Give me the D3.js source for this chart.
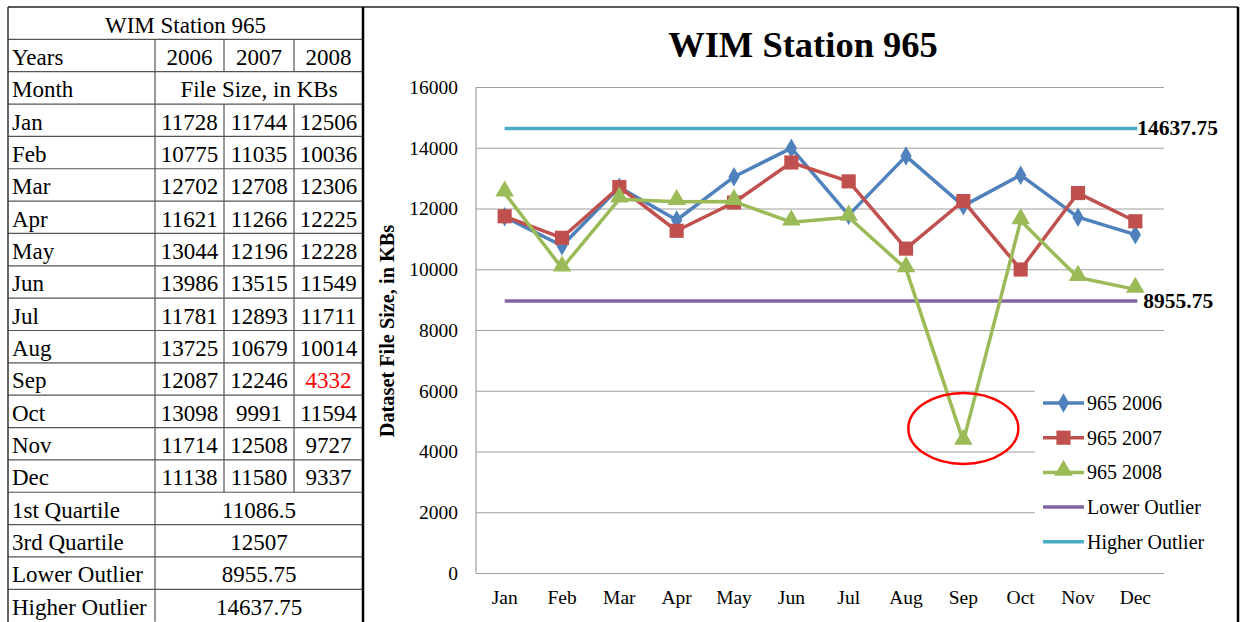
<!DOCTYPE html>
<html>
<head>
<meta charset="utf-8">
<script src="https://cdn.jsdelivr.net/npm/d3@7.9.0/dist/d3.min.js"></script>
<style>
  html, body { margin: 0; padding: 0; background: #fff; }
  svg { display: block; font-family: "Liberation Serif", "Times New Roman", serif; }
</style>
</head>
<body>
<svg id="chart" width="1241" height="622"></svg>
<script>
// data
const months = ['Jan', 'Feb', 'Mar', 'Apr', 'May', 'Jun', 'Jul', 'Aug', 'Sep', 'Oct', 'Nov', 'Dec'];
const years = ['2006', '2007', '2008'];
const size2006 = [11728, 10775, 12702, 11621, 13044, 13986, 11781, 13725, 12087, 13098, 11714, 11138];
const size2007 = [11744, 11035, 12708, 11266, 12196, 13515, 12893, 10679, 12246, 9991, 12508, 11580];
const size2008 = [12506, 10036, 12306, 12225, 12228, 11549, 11711, 10014, 4332, 11594, 9727, 9337];
const statLabels = ['1st Quartile', '3rd Quartile', 'Lower Outlier', 'Higher Outlier'];
const statValues = ['11086.5', '12507', '8955.75', '14637.75'];
const lowerOutlier = 8955.75;
const higherOutlier = 14637.75;
const yTicks = [0, 2000, 4000, 6000, 8000, 10000, 12000, 14000, 16000];
const outlierMonth = 'Sep';

const series = [
  { name: '965 2006', values: size2006, color: '#4f81bd', marker: 'diamond' },
  { name: '965 2007', values: size2007, color: '#c0504d', marker: 'square' },
  { name: '965 2008', values: size2008, color: '#9bbb59', marker: 'triangle' }
];
const refLines = [
  { name: 'Lower Outlier', value: lowerOutlier, color: '#8064a2' },
  { name: 'Higher Outlier', value: higherOutlier, color: '#4bacc6' }
];

const svg = d3.select('#chart');

// ----------- table -----------
const tLeft = 8, tRight = 363, tTop = 7, rowH = 32.35;
const colX = [tLeft, 155, 224, 294, tRight];
const table = svg.append('g');

let rows = [];
rows.push({ cells: [{ text: 'WIM Station 965', x0: tLeft, x1: tRight, anchor: 'middle' }] });
rows.push({ cells: [{ text: 'Years', x0: tLeft, x1: colX[1], anchor: 'start' }]
  .concat(years.map((y, i) => ({ text: y, x0: colX[i + 1], x1: colX[i + 2], anchor: 'middle' }))) });
rows.push({ cells: [{ text: 'Month', x0: tLeft, x1: colX[1], anchor: 'start' },
  { text: 'File Size, in KBs', x0: colX[1], x1: tRight, anchor: 'middle' }] });
months.forEach((m, i) => {
  rows.push({ cells: [{ text: m, x0: tLeft, x1: colX[1], anchor: 'start' }]
    .concat([size2006[i], size2007[i], size2008[i]].map((v, j) => ({
      text: v, x0: colX[j + 1], x1: colX[j + 2], anchor: 'middle',
      fill: (j === 2 && m === outlierMonth) ? '#ff0000' : '#000'
    }))) });
});
statLabels.forEach((s, i) => {
  rows.push({ cells: [{ text: s, x0: tLeft, x1: colX[1], anchor: 'start' },
    { text: statValues[i], x0: colX[1], x1: tRight, anchor: 'middle' }] });
});

rows.forEach((r, i) => {
  let top = tTop + i * rowH;
  if (i > 0) {
    table.append('line')
      .attr('x1', tLeft).attr('x2', tRight)
      .attr('y1', top).attr('y2', top)
      .attr('stroke', '#555').attr('stroke-width', 1.2);
  }
  r.cells.forEach((c, j) => {
    if (j > 0) {
      table.append('line')
        .attr('x1', c.x0).attr('x2', c.x0)
        .attr('y1', top).attr('y2', top + rowH)
        .attr('stroke', '#555').attr('stroke-width', 1.2);
    }
    table.append('text')
      .attr('x', c.anchor === 'start' ? c.x0 + 4 : (c.x0 + c.x1) / 2)
      .attr('y', top + 25.5)
      .attr('text-anchor', c.anchor)
      .attr('font-size', 23)
      .attr('fill', c.fill || '#000')
      .text(c.text);
  });
});

// outer frame
svg.append('line').attr('x1', tLeft).attr('x2', tLeft).attr('y1', tTop).attr('y2', 622)
  .attr('stroke', '#333').attr('stroke-width', 1.5);
svg.append('line').attr('x1', tLeft).attr('x2', 1238).attr('y1', tTop).attr('y2', tTop)
  .attr('stroke', '#222').attr('stroke-width', 1.5);
svg.append('line').attr('x1', 363).attr('x2', 363).attr('y1', tTop).attr('y2', 622)
  .attr('stroke', '#000').attr('stroke-width', 2.5);
svg.append('line').attr('x1', 1238).attr('x2', 1238).attr('y1', tTop).attr('y2', 622)
  .attr('stroke', '#000').attr('stroke-width', 2.5);

// ----------- chart -----------
const pLeft = 476, pRight = 1164, pTop = 87, pBottom = 573;

const x = d3.scaleBand().domain(months).range([pLeft, pRight]);
const cx = m => x(m) + x.bandwidth() / 2;
const y = d3.scaleLinear().domain([0, 16000]).range([pBottom, pTop]);

svg.append('text')
  .attr('x', 803).attr('y', 57)
  .attr('text-anchor', 'middle')
  .attr('font-size', 36.5).attr('font-weight', 'bold')
  .text('WIM Station 965');

// grid
const grid = svg.append('g')
  .attr('transform', `translate(${pLeft},0)`)
  .call(d3.axisLeft(y).tickValues(yTicks).tickSize(-(pRight - pLeft)).tickFormat(''));
grid.select('.domain').remove();
grid.selectAll('line').attr('stroke', '#a0a0a0').attr('stroke-width', 1.2);

// left axis line
svg.append('line').attr('x1', pLeft).attr('x2', pLeft).attr('y1', pTop).attr('y2', pBottom)
  .attr('stroke', '#a0a0a0').attr('stroke-width', 1.2);

// y axis labels
const yAxis = svg.append('g')
  .attr('transform', `translate(${pLeft - 18},0)`)
  .call(d3.axisLeft(y).tickValues(yTicks).tickSize(0).tickPadding(0).tickFormat(d3.format('d')));
yAxis.select('.domain').remove();
yAxis.selectAll('text')
  .attr('font-family', '"Liberation Serif", serif')
  .attr('font-size', 19.5).attr('fill', '#000');

// x axis labels
const xAxis = svg.append('g')
  .attr('transform', `translate(0,${pBottom + 17})`)
  .call(d3.axisBottom(x).tickSize(0).tickPadding(0));
xAxis.select('.domain').remove();
xAxis.selectAll('text')
  .attr('font-family', '"Liberation Serif", serif')
  .attr('font-size', 19.5).attr('fill', '#000');

// axis title
svg.append('text')
  .attr('transform', `translate(394,331) rotate(-90)`)
  .attr('text-anchor', 'middle')
  .attr('font-size', 20.3).attr('font-weight', 'bold')
  .text('Dataset File Size, in KBs');

// legend background (drawn over grid)
const legX = 1043, legY0 = 403, legStep = 34.7;
svg.append('rect')
  .attr('x', 1035).attr('y', 384).attr('width', 200).attr('height', 176)
  .attr('fill', '#fff');

// reference lines
refLines.forEach(r => {
  svg.append('line')
    .attr('x1', cx(months[0])).attr('x2', cx(months[months.length - 1]) + 2)
    .attr('y1', y(r.value)).attr('y2', y(r.value))
    .attr('stroke', r.color).attr('stroke-width', 3.5);
  svg.append('text')
    .attr('x', cx(months[months.length - 1]) + (r.value > 10000 ? 2 : 8))
    .attr('y', y(r.value) + 7)
    .attr('font-size', 21.5).attr('font-weight', 'bold')
    .text(r.value);
});

const symbolFor = {
  diamond: d3.symbol().type(d3.symbolDiamond).size(110),
  square: d3.symbol().type(d3.symbolSquare).size(200),
  triangle: d3.symbol().type(d3.symbolTriangle).size(150)
};

const line = d3.line().x((d, i) => cx(months[i])).y(d => y(d));

series.forEach(s => {
  svg.append('path')
    .attr('d', line(s.values))
    .attr('fill', 'none')
    .attr('stroke', s.color).attr('stroke-width', 3.5)
    .attr('stroke-linejoin', 'round');
  svg.append('g').selectAll('path')
    .data(s.values)
    .join('path')
    .attr('d', symbolFor[s.marker])
    .attr('transform', (d, i) => `translate(${cx(months[i])},${y(d) + (s.marker === 'triangle' ? -2 : 0)})`)
    .attr('fill', s.color);
});

// outlier ellipse
const sepIdx = months.indexOf(outlierMonth);
svg.append('ellipse')
  .attr('cx', cx(outlierMonth)).attr('cy', y(size2008[sepIdx]) - 13)
  .attr('rx', 55).attr('ry', 35.5)
  .attr('fill', 'none').attr('stroke', '#ff0000').attr('stroke-width', 2.5);

// legend
const legendItems = series.map(s => ({ name: s.name, color: s.color, marker: s.marker }))
  .concat(refLines.map(r => ({ name: r.name, color: r.color, marker: null })));
legendItems.forEach((it, i) => {
  const ly = legY0 + i * legStep;
  svg.append('line')
    .attr('x1', legX).attr('x2', legX + 41)
    .attr('y1', ly).attr('y2', ly)
    .attr('stroke', it.color).attr('stroke-width', 3.5);
  if (it.marker) {
    svg.append('path')
      .attr('d', symbolFor[it.marker])
      .attr('transform', `translate(${legX + 20.5},${ly + (it.marker === 'triangle' ? -2 : 0)})`)
      .attr('fill', it.color);
  }
  svg.append('text')
    .attr('x', legX + 44).attr('y', ly + 7)
    .attr('font-size', 20)
    .text(it.name);
});
</script>
</body>
</html>
